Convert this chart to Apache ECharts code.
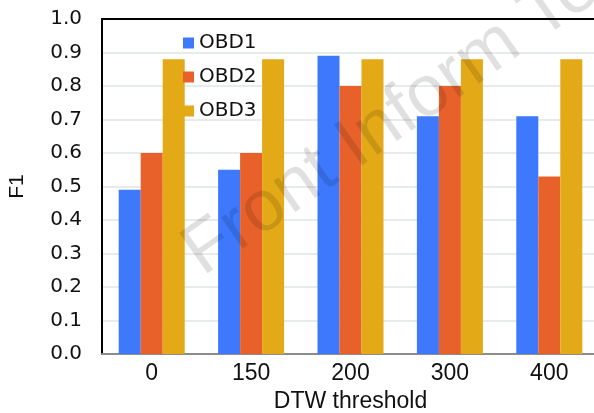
<!DOCTYPE html>
<html>
<head>
<meta charset="utf-8">
<script src="https://cdn.jsdelivr.net/npm/echarts@6/dist/echarts.min.js"></script>
<style>
html,body{margin:0;padding:0;background:#fff;}
#main{width:594px;height:413px;}
</style>
</head>
<body>
<div id="main"></div>
<script>
const categories = ['0', '150', '200', '300', '400'];
const seriesNames = ['OBD1', 'OBD2', 'OBD3'];
const obd1 = [0.49, 0.55, 0.89, 0.71, 0.71];
const obd2 = [0.60, 0.60, 0.80, 0.80, 0.53];
const obd3 = [0.88, 0.88, 0.88, 0.88, 0.88];
const colors = ['#3d78fd', '#e9612a', '#e4a917'];
const watermark = 'Front Inform Technol Electron Eng';

const chart = echarts.init(document.getElementById('main'), null, {renderer: 'canvas'});
const values = [obd1, obd2, obd3];
chart.setOption({
  animation: false,
  backgroundColor: '#fff',
  grid: {left: 102, top: 19, width: 497, height: 335, containLabel: false, outerBoundsMode: 'none'},
  legend: {
    orient: 'vertical', left: 178, top: 28, itemWidth: 11, itemHeight: 11, itemGap: 14,
    icon: 'rect',
    textStyle: {fontFamily: 'DejaVu Sans', fontSize: 20, color: '#111'},
    data: seriesNames
  },
  xAxis: [{
    type: 'category', data: categories,
    name: 'DTW threshold', nameLocation: 'middle', nameGap: 36,
    nameTextStyle: {fontFamily: 'Liberation Sans', fontSize: 23, color: '#111'},
    axisLine: {lineStyle: {color: '#8c8c8c', width: 2}},
    axisTick: {show: false},
    axisLabel: {fontFamily: 'Liberation Sans', fontSize: 23, color: '#111', margin: 8}
  }, {
    type: 'category', data: categories, position: 'top',
    axisLine: {lineStyle: {color: '#000', width: 2}},
    axisTick: {show: false}, axisLabel: {show: false}
  }],
  yAxis: {
    type: 'value', min: 0, max: 1, interval: 0.1,
    name: 'F1', nameLocation: 'middle', nameGap: 74, nameRotate: 90,
    nameTextStyle: {fontFamily: 'Liberation Sans', fontSize: 21, color: '#111'},
    axisLine: {show: true, lineStyle: {color: '#000', width: 2}},
    axisTick: {show: false},
    axisLabel: {fontFamily: 'DejaVu Sans', fontSize: 20, color: '#111', margin: 20,
      formatter: v => v.toFixed(1)},
    splitLine: {lineStyle: {color: '#dfe4e2', width: 1.5}}
  },
  series: seriesNames.map((n, i) => ({
    name: n, type: 'bar', data: values[i], barWidth: 22, barGap: '0%',
    itemStyle: {color: colors[i]}
  })),
  graphic: [{
    type: 'text', x: 212, y: 290, rotation: 35 * Math.PI / 180, z: 100, silent: true,
    style: {text: watermark, font: '72px "Liberation Sans"', fill: 'rgba(0,0,0,0.12)',
      textAlign: 'left', textVerticalAlign: 'bottom'}
  }]
});
</script>
</body>
</html>
